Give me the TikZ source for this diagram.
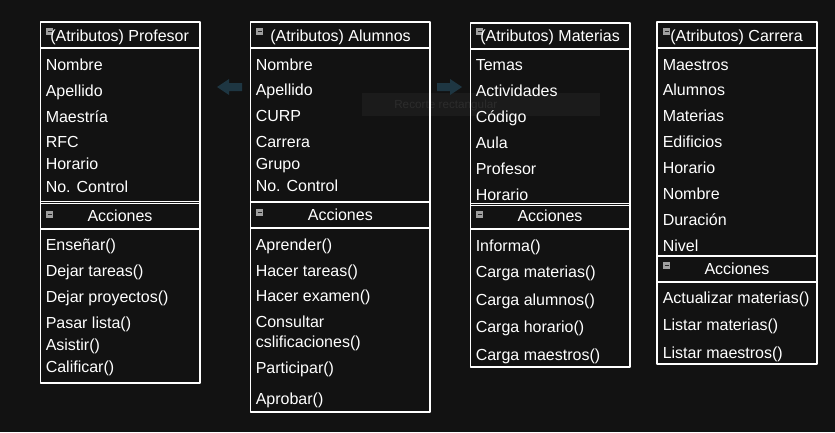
\documentclass[tikz,border=0pt]{standalone}
\usepackage{fontspec}
\setmainfont{Liberation Sans}
\definecolor{fondo}{RGB}{18,18,18}
\definecolor{flecha}{RGB}{30,54,66}
\definecolor{recorte}{RGB}{27,27,27}
\definecolor{recortetexto}{RGB}{44,44,44}
\tikzset{
	caja/.style={draw=white,line width=0.8pt},
	item/.style={anchor=base west,inner sep=0pt,text=white},
	titulo/.style={anchor=base,inner sep=0pt,text=white}
}
\begin{document}
\begin{tikzpicture}[x=0.75pt,y=-0.75pt,line join=round,font=\fontsize{12}{14}\selectfont]
	\fill[fondo] (0,0) rectangle (835,432);
	\useasboundingbox (0,0) rectangle (835,432);
	% recuadro del recorte
	\fill[recorte] (362,93) rectangle (600,116);
	\node[anchor=base west,inner sep=0pt,text=recortetexto,font=\fontsize{8.8}{10}\selectfont] (recorte) at (394,108) {Recorte rectangular};
	% flechas
	\fill[flecha] (217,87)--(229,79)--(229,83)--(242,83)--(242,91)--(229,91)--(229,95)--cycle;
	\fill[flecha] (462,87)--(450,79)--(450,83)--(437,83)--(437,91)--(450,91)--(450,95)--cycle;
	% cajas
	\draw[caja] (40.5,22) rectangle (200,383);
	\draw[caja] (40.5,48)--(200,48) (40.5,201.8)--(200,201.8) (40.5,203.8)--(200,203.8) (40.5,229)--(200,229);
	\draw[caja] (250.5,22) rectangle (430,412);
	\draw[caja] (250.5,48)--(430,48) (250.5,202)--(430,202) (250.5,228)--(430,228);
	\draw[caja] (470.5,23) rectangle (630,367);
	\draw[caja] (470.5,49)--(630,49) (470.5,203.5)--(630,203.5) (470.5,205.5)--(630,205.5) (470.5,229)--(630,229);
	\draw[caja] (657,22) rectangle (817,364);
	\draw[caja] (657,48)--(817,48) (657,256)--(817,256) (657,282)--(817,282);
	% iconos
	\foreach \x/\y in {46/28,46/211,256/28,256/209,476/28,476/211,663/28,663/262}{
		\fill[gray!75] (\x,\y) rectangle ++(7,7);
		\draw[black!85,line width=1pt] (\x+1.5,\y+3.5)--++(4,0);
	}
	% encabezados
	\node[item] (tprof) at (50,41) {(Atributos) Profesor};
	\node[item] (talum) at (270,41) {(Atributos) Alumnos};
	\node[item] (tmat) at (480,41.7) {(Atributos) Materias};
	\node[item] (tcar) at (670,41) {(Atributos) Carrera};
	\node[titulo] (aprof) at (120,221.7) {Acciones};
	\node[titulo] (aalum) at (340.3,220.7) {Acciones};
	\node[titulo] (amat) at (550,221.7) {Acciones};
	\node[titulo] (acar) at (737,274.3) {Acciones};
	% Profesor
	\foreach \texto/\y [count=\i] in {Nombre/70,Apellido/96,Maestría/122,RFC/147,Horario/169,No. Control/192,
		Enseñar()/250.5,Dejar tareas()/276.3,Dejar proyectos()/302.3,Pasar lista()/328.3,Asistir()/350.3,Calificar()/372.3}
	\node[item] (prof\i) at (45.5,\y) {\texto};
	% Alumnos
	\foreach \texto/\y [count=\i] in {Nombre/70,Apellido/95.7,CURP/121.7,Carrera/147.7,Grupo/169.3,No. Control/191.7,
		Aprender()/250,Hacer tareas()/276,Hacer examen()/301.7,Consultar/327.7,cslificaciones()/347.3,Participar()/373.7,Aprobar()/404.3}
	\node[item] (alum\i) at (255.5,\y) {\texto};
	% Materias
	\foreach \texto/\y [count=\i] in {Temas/70.7,Actividades/96.7,Código/122.3,Aula/148.3,Profesor/174.3,Horario/200.3,
		Informa()/251,Carga materias()/277,Carga alumnos()/305,Carga horario()/332.7,Carga maestros()/360}
	\node[item] (mat\i) at (475.5,\y) {\texto};
	% Carrera
	\foreach \texto/\y [count=\i] in {Maestros/70,Alumnos/95.7,Materias/121.7,Edificios/147.7,Horario/173.7,Nombre/199.3,Duración/225.3,Nivel/251,
		Actualizar materias()/303.7,Listar materias()/330.3,Listar maestros()/358.3}
	\node[item] (car\i) at (662.5,\y) {\texto};
\end{tikzpicture}
\end{document}
